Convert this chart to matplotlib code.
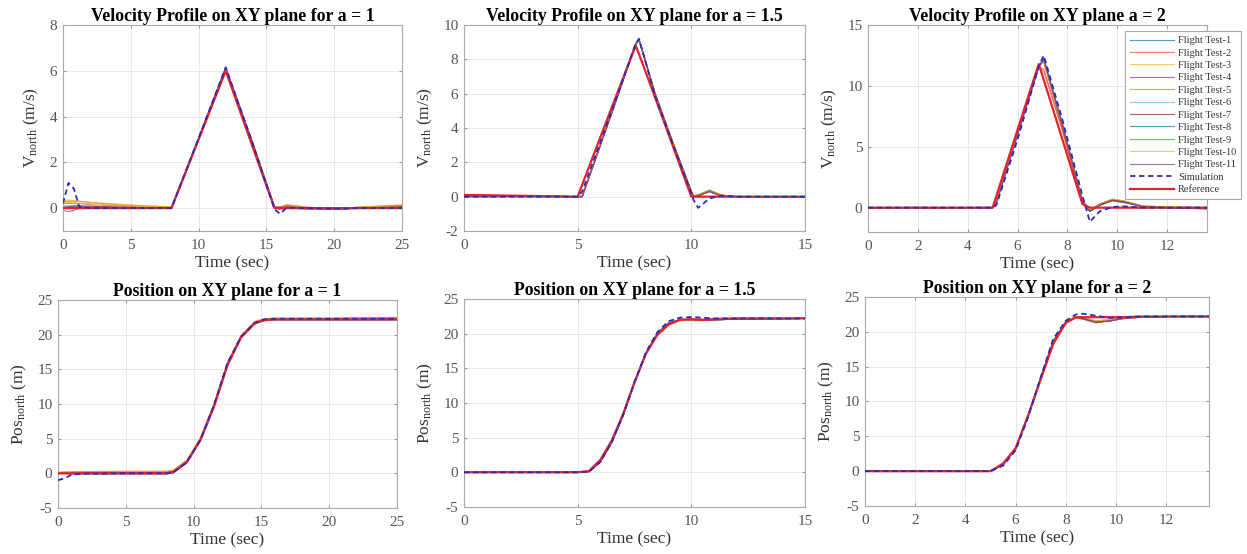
import numpy as np
import matplotlib
matplotlib.use("Agg")
import matplotlib.pyplot as plt

plt.rcParams['font.family'] = ['Liberation Serif', 'DejaVu Serif']
plt.rcParams['mathtext.fontset'] = 'custom'
plt.rcParams['mathtext.rm'] = 'Liberation Serif'
plt.rcParams['mathtext.it'] = 'Liberation Serif:italic'
plt.rcParams['axes.unicode_minus'] = False

# ---------------- data ----------------
# velocity, a = 1
T1 = [0, 0.4, 0.8, 1.2, 2, 4, 6, 8, 10, 12, 14, 15.6, 16, 16.5, 18, 20, 22, 25]
REF1 = [0, 0, 0, 0, 0, 0, 0, 0, 3.0, 6.0, 2.65, 0, 0, 0, 0, 0, 0, 0]
SIM1 = [0.2, 1.1, 0.85, 0.05, 0, 0, 0, 0, 3.05, 6.15, 2.8, -0.05, -0.25, 0.02, 0, -0.03, 0, 0]
FT1 = [
    [0.0, 0.05, 0.05, 0.05, 0.03, 0.02, 0.0, 0.0, 3.05, 6.1, 2.8, 0.05, 0.0, 0.05, 0.0, -0.05, 0.0, 0.05],
    [0.3, 0.3, 0.3, 0.3, 0.25, 0.15, 0.1, 0.05, 3.05, 6.15, 2.85, 0.05, 0.05, 0.15, 0.05, -0.05, 0.0, 0.1],
    [0.35, 0.35, 0.33, 0.3, 0.25, 0.18, 0.1, 0.05, 3.0, 6.1, 2.8, 0.05, 0.0, 0.1, 0.0, -0.05, 0.05, 0.15],
    [-0.1, -0.15, -0.1, 0.0, 0.0, 0.0, 0.0, 0.0, 3.05, 6.1, 2.75, 0.0, -0.05, 0.0, -0.05, -0.05, 0.0, 0.05],
    [0.1, 0.1, 0.1, 0.1, 0.08, 0.05, 0.03, 0.0, 3.05, 6.12, 2.8, 0.05, 0.0, 0.05, 0.0, -0.03, 0.0, 0.05],
    [0.0, 0.0, 0.0, 0.0, 0.0, 0.0, 0.0, 0.0, 3.0, 6.05, 2.75, 0.0, 0.0, 0.05, 0.0, 0.0, 0.0, 0.0],
    [0.05, 0.05, 0.05, 0.05, 0.05, 0.03, 0.02, 0.0, 3.05, 6.1, 2.85, 0.05, 0.0, 0.1, 0.0, -0.05, 0.05, 0.1],
    [0.0, 0.0, 0.0, 0.0, 0.0, 0.0, 0.0, 0.0, 3.05, 6.1, 2.8, 0.0, 0.0, 0.05, 0.0, 0.0, 0.0, 0.0],
    [0.2, 0.2, 0.2, 0.2, 0.15, 0.1, 0.05, 0.03, 3.0, 6.1, 2.8, 0.05, 0.05, 0.1, 0.0, -0.05, 0.0, 0.05],
    [0.25, 0.25, 0.25, 0.22, 0.2, 0.12, 0.08, 0.03, 3.0, 6.1, 2.8, 0.05, 0.0, 0.1, 0.0, -0.05, 0.05, 0.1],
    [0.0, 0.05, 0.1, 0.1, 0.08, 0.05, 0.02, 0.0, 3.05, 6.15, 2.8, 0.0, 0.0, 0.05, 0.0, -0.05, 0.0, 0.05],
]

# velocity, a = 1.5
T2 = [0, 2.5, 5.0, 5.2, 6.5, 7.55, 7.7, 8.4, 9.2, 10.0, 10.1, 10.3, 10.8, 11.3, 12, 13.5, 15]
REF2 = [0.1, 0.05, 0.0, 0.7, 5.2, 8.8, 8.3, 5.8, 2.9, 0.0, 0, 0, 0, 0, 0, 0, 0]
SIM2 = [0.0, 0.0, 0.0, 0.3, 5.0, 8.9, 9.2, 5.9, 3.0, 0.2, -0.2, -0.65, -0.1, 0.05, 0.0, 0.0, 0.0]
FT2 = [
    [0.05, 0.02, 0.0, 0.0, 4.9, 8.9, 9.15, 6.0, 3.1, 0.3, 0.05, 0.05, 0.35, 0.05, 0.0, 0.0, 0.0],
    [0.1, 0.05, 0.0, 0.05, 4.95, 8.85, 9.1, 6.0, 3.05, 0.25, 0.0, 0.05, 0.3, 0.05, 0.0, 0.0, 0.0],
    [0.05, 0.05, 0.0, 0.0, 4.9, 8.9, 9.15, 6.05, 3.1, 0.3, 0.05, 0.1, 0.35, 0.1, 0.0, 0.0, 0.0],
    [0.0, 0.0, 0.0, 0.0, 4.85, 8.9, 9.15, 6.0, 3.1, 0.3, 0.0, 0.05, 0.3, 0.05, 0.0, 0.0, 0.0],
    [0.05, 0.02, 0.0, 0.0, 4.9, 8.95, 9.2, 6.05, 3.15, 0.35, 0.05, 0.1, 0.4, 0.1, 0.0, 0.0, 0.0],
    [0.05, 0.05, 0.0, 0.05, 4.95, 8.9, 9.1, 6.0, 3.05, 0.3, 0.05, 0.05, 0.3, 0.05, 0.0, 0.0, 0.0],
    [0.0, 0.0, 0.0, 0.0, 4.9, 8.9, 9.15, 6.0, 3.1, 0.3, 0.05, 0.1, 0.35, 0.1, 0.0, 0.0, 0.0],
    [0.05, 0.02, 0.0, 0.0, 4.9, 8.9, 9.15, 6.0, 3.1, 0.3, 0.0, 0.05, 0.35, 0.05, 0.0, 0.0, 0.0],
    [0.1, 0.05, 0.0, 0.05, 4.95, 8.85, 9.1, 6.05, 3.1, 0.25, 0.05, 0.05, 0.3, 0.05, 0.0, 0.0, 0.0],
    [0.05, 0.05, 0.0, 0.0, 4.9, 8.9, 9.15, 6.0, 3.1, 0.3, 0.05, 0.1, 0.35, 0.1, 0.0, 0.0, 0.0],
    [0.0, 0.0, 0.0, 0.0, 4.85, 8.9, 9.15, 6.0, 3.05, 0.3, 0.0, 0.05, 0.3, 0.05, 0.0, 0.0, 0.0],
]

# velocity, a = 2
T3 = [0, 2.5, 5.0, 5.15, 6.0, 6.85, 7.05, 7.8, 8.6, 8.9, 9.3, 9.8, 10.3, 11, 12, 13.6]
REF3 = [0, 0, 0, 0.96, 6.4, 11.8, 10.5, 5.6, 0.3, 0, 0, 0, 0, 0, 0, 0]
SIM3 = [0, 0, 0, 0.2, 5.6, 11.6, 12.5, 7.2, 1.0, -1.15, -0.3, 0.05, 0.1, 0.0, 0.0, 0.0]
FT3 = [
    [0, 0, 0, 0.4, 6.0, 11.6, 12.2, 6.8, 0.5, -0.3, 0.2, 0.6, 0.45, 0.1, 0.0, -0.05],
    [0, 0, 0, 0.6, 6.2, 11.5, 11.2, 6.3, 0.4, -0.2, 0.25, 0.55, 0.4, 0.1, 0.0, -0.05],
    [0, 0, 0, 0.5, 6.1, 11.6, 12.0, 6.7, 0.6, -0.2, 0.3, 0.65, 0.5, 0.15, 0.05, 0.0],
    [0, 0, 0, 0.4, 6.0, 11.5, 12.1, 6.8, 0.5, -0.3, 0.2, 0.6, 0.45, 0.1, 0.0, -0.05],
    [0, 0, 0, 0.5, 6.1, 11.6, 12.1, 6.9, 0.7, -0.2, 0.3, 0.7, 0.55, 0.15, 0.05, 0.0],
    [0, 0, 0, 0.4, 6.0, 11.6, 12.2, 6.8, 0.5, -0.3, 0.2, 0.55, 0.4, 0.1, 0.0, -0.05],
    [0, 0, 0, 0.5, 6.1, 11.7, 12.0, 6.6, 0.5, -0.25, 0.3, 0.65, 0.5, 0.1, 0.0, -0.1],
    [0, 0, 0, 0.4, 6.0, 11.6, 12.3, 6.9, 0.5, -0.3, 0.2, 0.6, 0.45, 0.1, 0.0, -0.05],
    [0, 0, 0, 0.6, 6.2, 11.5, 11.4, 6.4, 0.4, -0.2, 0.25, 0.6, 0.45, 0.1, 0.0, -0.05],
    [0, 0, 0, 0.5, 6.1, 11.6, 12.0, 6.8, 0.6, -0.2, 0.3, 0.7, 0.55, 0.15, 0.05, 0.0],
    [0, 0, 0, 0.4, 6.0, 11.6, 12.2, 6.8, 0.5, -0.3, 0.2, 0.6, 0.45, 0.1, 0.0, -0.1],
]

# position, a = 1
T4 = [0, 0.5, 1.0, 2, 5, 8, 8.5, 9.5, 10.5, 11.5, 12.5, 13.5, 14.5, 15.2, 16, 20, 25]
REF4 = [0, 0, 0, 0, 0, 0, 0.15, 1.6, 4.8, 9.6, 15.6, 19.6, 21.6, 22.1, 22.2, 22.2, 22.2]
SIM4 = [-1.0, -0.7, -0.2, -0.05, 0, 0, 0.15, 1.6, 4.8, 9.8, 15.9, 19.7, 21.7, 22.2, 22.3, 22.3, 22.3]
FT4 = [
    [0.0, 0.0, 0.0, 0.0, 0.0, 0.0, 0.15, 1.6, 4.85, 9.7, 15.8, 19.7, 21.7, 22.1, 22.2, 22.2, 22.2],
    [0.15, 0.2, 0.2, 0.25, 0.3, 0.3, 0.45, 1.9, 5.1, 10.0, 16.0, 19.9, 21.9, 22.3, 22.4, 22.4, 22.5],
    [0.1, 0.15, 0.2, 0.2, 0.25, 0.3, 0.4, 1.8, 5.0, 9.9, 15.9, 19.8, 21.8, 22.2, 22.3, 22.3, 22.4],
    [0.0, -0.05, -0.1, -0.1, -0.1, -0.1, 0.05, 1.5, 4.7, 9.6, 15.7, 19.6, 21.6, 22.0, 22.1, 22.1, 22.1],
    [0.0, 0.05, 0.1, 0.1, 0.15, 0.2, 0.3, 1.7, 4.9, 9.8, 15.8, 19.7, 21.8, 22.2, 22.2, 22.2, 22.3],
    [0.0, 0.0, 0.0, 0.0, 0.0, 0.0, 0.15, 1.6, 4.8, 9.7, 15.7, 19.6, 21.6, 22.0, 22.1, 22.1, 22.1],
    [0.0, 0.0, 0.05, 0.1, 0.1, 0.1, 0.25, 1.7, 4.9, 9.8, 15.8, 19.7, 21.7, 22.1, 22.2, 22.2, 22.3],
    [0.0, 0.0, 0.0, 0.0, 0.0, 0.0, 0.15, 1.6, 4.85, 9.7, 15.8, 19.7, 21.7, 22.1, 22.2, 22.2, 22.2],
    [0.05, 0.1, 0.15, 0.2, 0.2, 0.2, 0.35, 1.8, 5.0, 9.9, 15.9, 19.8, 21.8, 22.2, 22.3, 22.3, 22.4],
    [0.1, 0.15, 0.2, 0.2, 0.25, 0.25, 0.4, 1.8, 5.0, 9.9, 15.9, 19.8, 21.8, 22.2, 22.3, 22.3, 22.4],
    [0.0, 0.0, 0.05, 0.05, 0.1, 0.1, 0.25, 1.7, 4.9, 9.8, 15.8, 19.7, 21.7, 22.1, 22.2, 22.2, 22.3],
]

# position, a = 1.5
T5 = [0, 3, 5.0, 5.5, 6.0, 6.5, 7.0, 7.5, 8.0, 8.5, 9.0, 9.5, 10.0, 10.5, 11, 12, 15]
REF5 = [0, 0, 0, 0.2, 1.8, 4.6, 8.4, 13.0, 17.1, 19.8, 21.3, 22.0, 22.1, 22.0, 22.1, 22.2, 22.2]
SIM5 = [0, 0, 0, 0.1, 1.5, 4.4, 8.3, 13.0, 17.3, 20.2, 21.8, 22.3, 22.4, 22.3, 22.2, 22.2, 22.2]
FT5 = [
    [0, 0, 0, 0.1, 1.5, 4.3, 8.2, 12.9, 17.1, 20.0, 21.5, 22.0, 22.0, 21.9, 22.0, 22.1, 22.2],
    [0, 0, 0, 0.1, 1.6, 4.4, 8.3, 13.0, 17.2, 20.0, 21.5, 22.0, 22.0, 21.9, 22.0, 22.1, 22.2],
    [0, 0, 0, 0.1, 1.5, 4.3, 8.2, 12.9, 17.1, 19.9, 21.4, 21.9, 21.9, 21.9, 22.0, 22.1, 22.2],
    [0, 0, 0, 0.1, 1.5, 4.3, 8.2, 12.9, 17.1, 20.0, 21.5, 22.0, 22.0, 21.9, 22.0, 22.1, 22.2],
    [0, 0, 0, 0.1, 1.6, 4.4, 8.3, 13.0, 17.2, 20.1, 21.6, 22.0, 22.0, 21.9, 22.0, 22.1, 22.2],
    [0, 0, 0, 0.1, 1.5, 4.3, 8.2, 12.9, 17.1, 20.0, 21.5, 22.0, 22.0, 21.9, 22.0, 22.1, 22.2],
    [0, 0, 0, 0.1, 1.5, 4.3, 8.2, 12.9, 17.1, 20.0, 21.5, 22.0, 22.0, 21.9, 22.0, 22.1, 22.2],
    [0, 0, 0, 0.1, 1.5, 4.3, 8.2, 12.9, 17.1, 20.0, 21.5, 22.0, 22.0, 21.9, 22.0, 22.1, 22.2],
    [0, 0, 0, 0.1, 1.6, 4.4, 8.3, 13.0, 17.2, 20.0, 21.5, 22.0, 22.0, 21.9, 22.0, 22.1, 22.2],
    [0, 0, 0, 0.1, 1.5, 4.3, 8.2, 12.9, 17.1, 19.9, 21.4, 21.9, 21.9, 21.9, 22.0, 22.1, 22.2],
    [0, 0, 0, 0.1, 1.5, 4.3, 8.2, 12.9, 17.1, 20.0, 21.5, 22.0, 22.0, 21.9, 22.0, 22.1, 22.2],
]

# position, a = 2
T6 = [0, 3, 5.0, 5.5, 6.0, 6.5, 7.0, 7.5, 8.0, 8.4, 8.7, 9.2, 9.8, 10.3, 11, 12, 13.7]
REF6 = [0, 0, 0, 1.1, 3.3, 8.0, 13.2, 18.3, 21.3, 22.1, 22.1, 22.1, 22.1, 22.1, 22.2, 22.2, 22.2]
SIM6 = [0, 0, 0, 0.8, 3.0, 7.8, 13.5, 19.0, 21.6, 22.5, 22.6, 22.3, 22.0, 22.1, 22.2, 22.2, 22.2]
FT6 = [
    [0, 0, 0, 0.9, 3.2, 8.0, 13.4, 18.7, 21.4, 22.1, 21.9, 21.4, 21.6, 22.0, 22.1, 22.2, 22.2],
    [0, 0, 0, 1.0, 3.3, 8.1, 13.4, 18.6, 21.3, 22.0, 21.8, 21.3, 21.6, 21.9, 22.1, 22.2, 22.2],
    [0, 0, 0, 0.9, 3.2, 8.0, 13.4, 18.7, 21.5, 22.2, 22.0, 21.5, 21.7, 22.0, 22.1, 22.2, 22.2],
    [0, 0, 0, 0.9, 3.2, 8.0, 13.4, 18.7, 21.4, 22.1, 21.9, 21.4, 21.6, 22.0, 22.1, 22.2, 22.2],
    [0, 0, 0, 0.9, 3.2, 8.0, 13.4, 18.7, 21.5, 22.2, 22.0, 21.6, 21.8, 22.0, 22.1, 22.2, 22.2],
    [0, 0, 0, 0.9, 3.2, 8.0, 13.4, 18.7, 21.4, 22.1, 21.9, 21.4, 21.6, 22.0, 22.1, 22.2, 22.2],
    [0, 0, 0, 1.0, 3.3, 8.1, 13.4, 18.6, 21.4, 22.1, 21.9, 21.4, 21.6, 21.9, 22.1, 22.2, 22.2],
    [0, 0, 0, 0.9, 3.2, 8.0, 13.4, 18.7, 21.4, 22.1, 21.9, 21.4, 21.6, 22.0, 22.1, 22.2, 22.2],
    [0, 0, 0, 1.0, 3.3, 8.1, 13.4, 18.6, 21.3, 22.0, 21.8, 21.3, 21.6, 21.9, 22.1, 22.2, 22.2],
    [0, 0, 0, 0.9, 3.2, 8.0, 13.4, 18.7, 21.5, 22.2, 22.0, 21.5, 21.7, 22.0, 22.1, 22.2, 22.2],
    [0, 0, 0, 0.9, 3.2, 8.0, 13.4, 18.7, 21.4, 22.1, 21.9, 21.4, 21.6, 22.0, 22.1, 22.2, 22.2],
]

TITLES = ["Velocity Profile on XY plane for a = 1", "Velocity Profile on XY plane for a = 1.5",
          "Velocity Profile on XY plane a = 2", "Position on XY plane for a = 1",
          "Position on XY plane for a = 1.5", "Position on XY plane for a = 2"]
FT_LABELS = [f"Flight Test-{i}" for i in range(1, 12)]

# matlab default colour order
FT_COLORS = ['#0072BD', '#D95319', '#EDB120', '#7E2F8E', '#77AC30', '#4DBEEE', '#A2142F',
             '#0072BD', '#D95319', '#EDB120', '#7E2F8E']
SIM_COLOR = '#2a2ac0'
REF_COLOR = '#e8202a'

# ---------------- figure ----------------
W, H = 1247, 554
fig = plt.figure(figsize=(W / 100, H / 100), dpi=100)


def px_axes(l, r, t, b):
    return fig.add_axes([l / W, 1 - b / H, (r - l) / W, (b - t) / H])


panels = [
    (px_axes(63, 402, 25, 231), T1, REF1, SIM1, FT1, (0, 25), (-1, 8), np.arange(0, 26, 5), np.arange(0, 9, 2), 'V'),
    (px_axes(464, 805, 25, 231), T2, REF2, SIM2, FT2, (0, 15), (-2, 10), np.arange(0, 16, 5), np.arange(-2, 11, 2), 'V'),
    (px_axes(868, 1207, 25, 232), T3, REF3, SIM3, FT3, (0, 13.6), (-2, 15), np.arange(0, 13, 2), np.arange(0, 16, 5), 'V'),
    (px_axes(58, 397, 300, 508), T4, REF4, SIM4, FT4, (0, 25), (-5, 25), np.arange(0, 26, 5), np.arange(-5, 26, 5), 'P'),
    (px_axes(464, 805, 299, 507), T5, REF5, SIM5, FT5, (0, 15), (-5, 25), np.arange(0, 16, 5), np.arange(-5, 26, 5), 'P'),
    (px_axes(865, 1209, 297, 506), T6, REF6, SIM6, FT6, (0, 13.7), (-5, 25), np.arange(0, 13, 2), np.arange(-5, 26, 5), 'P'),
]

for k, (ax, t, ref, sim, fts, xl, yl, xt, yt, kind) in enumerate(panels):
    for i, row in enumerate(fts):
        ax.plot(t, row, color=FT_COLORS[i], lw=0.8, alpha=0.7, label=FT_LABELS[i])
    ax.plot(t, ref, color=REF_COLOR, lw=1.6, label='Reference', zorder=4)
    ax.plot(t, sim, color=SIM_COLOR, lw=1.3, ls=(0, (3, 2)), label='Simulation', zorder=5)
    ax.set_xlim(*xl)
    ax.set_ylim(*yl)
    ax.set_xticks(xt)
    ax.set_yticks(yt)
    ax.grid(True, color='#e4e4e4', lw=0.6)
    ax.set_axisbelow(True)
    ax.tick_params(direction='in', length=2.5, top=True, right=True, labelsize=11,
                   colors='#999999', labelcolor='#555555')
    ax.tick_params(axis='x', pad=6)
    ax.tick_params(axis='y', pad=4)
    for s in ax.spines.values():
        s.set_color('#aaaaaa')
        s.set_linewidth(0.8)
    ax.set_title(TITLES[k], fontsize=12.8, fontweight='bold', pad=3)
    ax.set_xlabel('Time (sec)', fontsize=12.5, color='#333333', labelpad=2)
    if kind == 'V':
        ax.set_ylabel(r'V$_{\mathrm{north}}$ (m/s)', fontsize=12.5, color='#333333', labelpad=6)
    else:
        ax.set_ylabel(r'Pos$_{\mathrm{north}}$ (m)', fontsize=12.5, color='#333333', labelpad=6)

# legend on the a = 2 velocity panel
ax3 = panels[2][0]
h, l = ax3.get_legend_handles_labels()
order = list(range(11)) + [12, 11]
leg = ax3.legend([h[i] for i in order], [l[i] for i in order], loc='upper right',
                 bbox_to_anchor=(1246 / W, 1 - 26 / H), bbox_transform=fig.transFigure,
                 fontsize=7.5, labelspacing=0.3, handlelength=4.2, handletextpad=0.4,
                 borderpad=0.45, fancybox=False, framealpha=1, edgecolor='#aaaaaa')
leg.get_frame().set_linewidth(0.8)
for txt in leg.get_texts():
    txt.set_color('#333333')

fig.savefig('out.png', dpi=100)
